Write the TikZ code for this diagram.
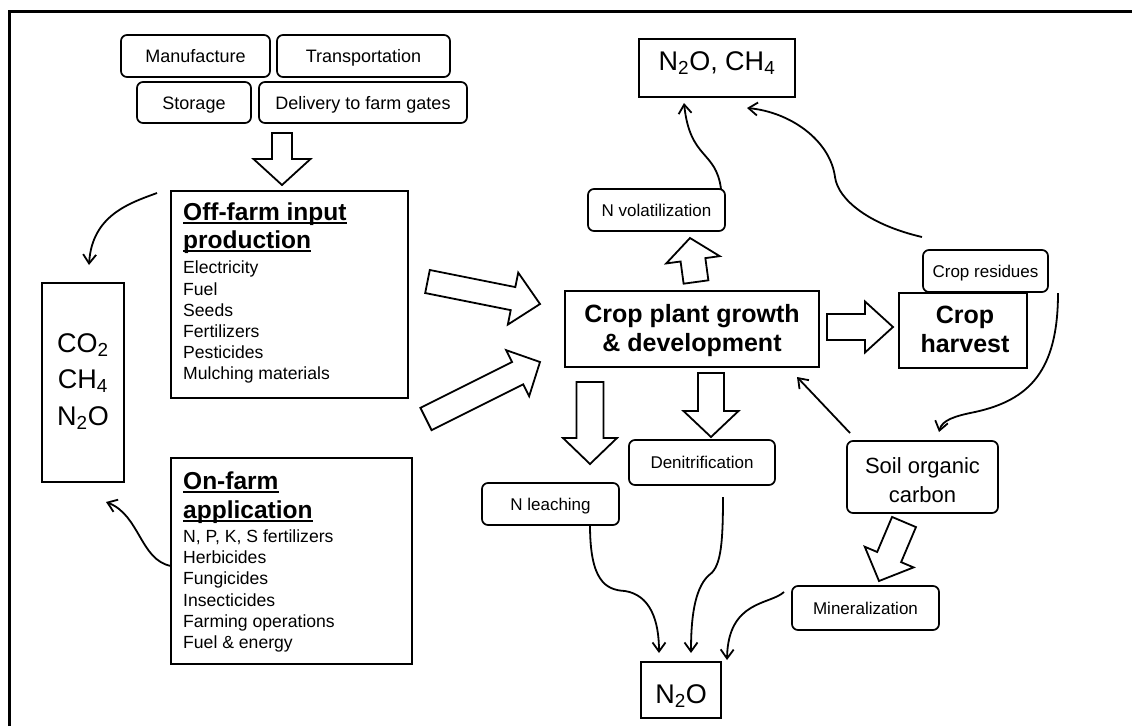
\documentclass[tikz,border=0pt]{standalone}
\usepackage{fontspec}
\setmainfont{Liberation Sans}
\usetikzlibrary{calc,arrows.meta}
\newcommand{\fsz}[2]{\fontsize{#1}{#2}\selectfont}
\newcommand{\blockarrow}[5]{%
  \coordinate (bhd) at ($(#2)!#5!(#1)$);
  \draw[blk] ($(#1)!#3!90:(#2)$) -- ($(bhd)!#3!-90:(#1)$) -- ($(bhd)!#4!-90:(#1)$) -- (#2)
    -- ($(bhd)!#4!90:(#1)$) -- ($(bhd)!#3!90:(#1)$) -- ($(#1)!#3!-90:(#2)$) -- cycle;
}
\tikzset{
  rbox/.style={draw, line width=1.7pt, rounded corners=6pt, inner sep=0pt, outer sep=0pt, fill=white,
    font=\fsz{18}{21}, text height=13pt, text depth=0pt},
  lbl/.style={draw, line width=1.7pt, rounded corners=6pt, inner sep=0pt, outer sep=0pt, fill=white,
    font=\fsz{17}{20}, text height=12pt, text depth=0pt},
  sbox/.style={draw, line width=2pt, inner sep=0pt, outer sep=0pt, fill=white},
  blk/.style={draw, line width=1.8pt, fill=white, line join=miter},
  conn/.style={line width=1.8pt, -{Straight Barb[length=9pt,width=13pt]}},
  ttl/.style={inner sep=0pt, anchor=base west, font=\fsz{24.5}{29}\bfseries},
  itm/.style={inner sep=0pt, anchor=base west, font=\fsz{17.6}{21}},
  big/.style={inner sep=0pt, anchor=base, font=\fsz{25}{29}\bfseries},
  gas/.style={inner sep=0pt, anchor=base, font=\fsz{27}{32}},
  soc/.style={inner sep=0pt, anchor=base, font=\fsz{22}{29}},
  uline/.style={line width=1.6pt},
}
\begin{document}
\begin{tikzpicture}[x=1pt,y=-1pt]
\useasboundingbox (0,0) rectangle (1132,726);
% frame
\draw[line width=3pt] (9,726) -- (9,11) -- (1132,11);

% top boxes
\node[rbox, minimum width=149pt, minimum height=42pt] (manu) at (195.5,56) {Manufacture};
\node[rbox, minimum width=173pt, minimum height=42pt] (trans) at (363.5,56) {Transportation};
\node[rbox, minimum width=114pt, minimum height=41pt] (stor) at (194,102.5) {Storage};
\node[rbox, minimum width=208pt, minimum height=41pt] (deliv) at (363,102.5) {Delivery to farm gates};

% off-farm box
\node[sbox, minimum width=237pt, minimum height=207pt] (off) at (289.5,294.5) {};
\node[ttl] (offt1) at (183,220) {Off-farm input};
\node[ttl] (offt2) at (183,248) {production};
\draw[uline] ([yshift=-3pt]offt1.base west) -- ([yshift=-3pt]offt1.base east);
\draw[uline] ([yshift=-3pt]offt2.base west) -- ([yshift=-3pt]offt2.base east);
\node[itm] (offi1) at (183,273) {Electricity};
\node[itm] (offi2) at (183,295) {Fuel};
\node[itm] (offi3) at (183,316) {Seeds};
\node[itm] (offi4) at (183,337) {Fertilizers};
\node[itm] (offi5) at (183,358) {Pesticides};
\node[itm] (offi6) at (183,379) {Mulching materials};

% on-farm box
\node[sbox, minimum width=241pt, minimum height=206pt] (on) at (291.5,561) {};
\node[ttl] (ont1) at (183,489) {On-farm};
\node[ttl] (ont2) at (183,518) {application};
\draw[uline] ([yshift=-3pt]ont1.base west) -- ([yshift=-3pt]ont1.base east);
\draw[uline] ([yshift=-3pt]ont2.base west) -- ([yshift=-3pt]ont2.base east);
\node[itm] (oni1) at (183,542) {N, P, K, S fertilizers};
\node[itm] (oni2) at (183,563) {Herbicides};
\node[itm] (oni3) at (183,584) {Fungicides};
\node[itm] (oni4) at (183,606) {Insecticides};
\node[itm] (oni5) at (183,627) {Farming operations};
\node[itm] (oni6) at (183,648) {Fuel \& energy};

% GHG box
\node[sbox, minimum width=82pt, minimum height=199pt] (ghg) at (83,382.5) {};
\node[gas] (ghg1) at (83,352) {CO\textsubscript{2}};
\node[gas] (ghg2) at (83,388) {CH\textsubscript{4}};
\node[gas] (ghg3) at (83,425) {N\textsubscript{2}O};

% central box
\node[sbox, minimum width=254pt, minimum height=76pt] (crop) at (692,329) {};
\node[big] (cropt1) at (692,322) {Crop plant growth};
\node[big] (cropt2) at (692,351) {\& development};

% crop residues and harvest
\node[lbl, minimum width=125pt, minimum height=42pt] (resid) at (985.5,271) {Crop residues};
\node[sbox, minimum width=128pt, minimum height=75pt] (harv) at (963,330.5) {};
\node[big] (harvt1) at (965,323) {Crop};
\node[big] (harvt2) at (965,352) {harvest};

% N2O, CH4 box
\node[sbox, minimum width=156pt, minimum height=58pt] (air) at (717,68) {};
\node[gas] (airt) at (717,70) {N\textsubscript{2}O, CH\textsubscript{4}};

% N2O box
\node[sbox, minimum width=80pt, minimum height=56pt] (soil) at (681,690) {};
\node[gas] (soilt) at (681,703) {N\textsubscript{2}O};

% small process boxes
\node[lbl, minimum width=137pt, minimum height=42pt] (vol) at (656.5,210) {N volatilization};
\node[lbl, minimum width=146pt, minimum height=45pt] (den) at (702,462.5) {Denitrification};
\node[lbl, minimum width=137pt, minimum height=42pt] (leach) at (550.5,504) {N leaching};
\node[lbl, minimum width=147pt, minimum height=44pt] (mine) at (865.5,608) {Mineralization};
\node[draw, line width=1.7pt, rounded corners=6pt, inner sep=0pt, minimum width=151pt, minimum height=72pt] (socb) at (922.5,477) {};
\node[soc] (soct1) at (922.5,473) {Soil organic};
\node[soc] (soct2) at (922.5,502) {carbon};

% block arrows
\coordinate (a0s) at (282,133); \coordinate (a0t) at (282,185);
\blockarrow{a0s}{a0t}{10pt}{28.5pt}{26pt}
\coordinate (a1s) at (427.5,281.5); \coordinate (a1t) at (540,304);
\blockarrow{a1s}{a1t}{11.75pt}{26.5pt}{27.5pt}
\coordinate (a2s) at (426,419); \coordinate (a2t) at (540,362);
\blockarrow{a2s}{a2t}{12.5pt}{25.75pt}{25pt}
\coordinate (a3s) at (696,282); \coordinate (a3t) at (690,238);
\blockarrow{a3s}{a3t}{12.5pt}{27pt}{22pt}
\coordinate (a4s) at (827,327); \coordinate (a4t) at (893,327);
\blockarrow{a4s}{a4t}{13pt}{25.5pt}{28pt}
\coordinate (a5s) at (590,382); \coordinate (a5t) at (590,464);
\blockarrow{a5s}{a5t}{13.5pt}{27pt}{26pt}
\coordinate (a6s) at (711,373); \coordinate (a6t) at (711,437);
\blockarrow{a6s}{a6t}{13pt}{27.5pt}{26pt}
\coordinate (a7s) at (904,522); \coordinate (a7t) at (879,581);
\blockarrow{a7s}{a7t}{13pt}{26.5pt}{26pt}

% curved connectors
\coordinate (c1s) at (157,193); \coordinate (c1t) at (89,265);
\draw[conn] (c1s) .. controls (130,203) and (92,215) .. (c1t);
\coordinate (c2s) at (171,566); \coordinate (c2t) at (106,502);
\draw[conn] (c2s) .. controls (140,560) and (140,515) .. (c2t);
\coordinate (c3s) at (721,189); \coordinate (c3t) at (684,103);
\draw[conn] (c3s) .. controls (716,150) and (690,160) .. (c3t);
\coordinate (c4s) at (922,237); \coordinate (c4t) at (747,108);
\draw[conn] (c4s) .. controls (870,225) and (838,200) .. (835,177) .. controls (830,140) and (790,112) .. (c4t);
\coordinate (c5s) at (1058,293); \coordinate (c5t) at (939,432);
\draw[conn] (c5s) .. controls (1058,370) and (1030,400) .. (975,412) .. controls (955,416) and (942,420) .. (c5t);
\coordinate (c6s) at (850,433); \coordinate (c6t) at (797,377);
\draw[conn] (c6s) -- (c6t);
\coordinate (c7s) at (590,525); \coordinate (c7t) at (659,653);
\draw[conn] (c7s) .. controls (590,580) and (605,590) .. (625,591) .. controls (650,595) and (659,620) .. (c7t);
\coordinate (c8s) at (723,497); \coordinate (c8t) at (691,653);
\draw[conn] (c8s) .. controls (723,550) and (720,568) .. (708,576) .. controls (694,590) and (691,620) .. (c8t);
\coordinate (c9s) at (784,592); \coordinate (c9t) at (727,660);
\draw[conn] (c9s) .. controls (770,605) and (728,600) .. (c9t);
\end{tikzpicture}
\end{document}
